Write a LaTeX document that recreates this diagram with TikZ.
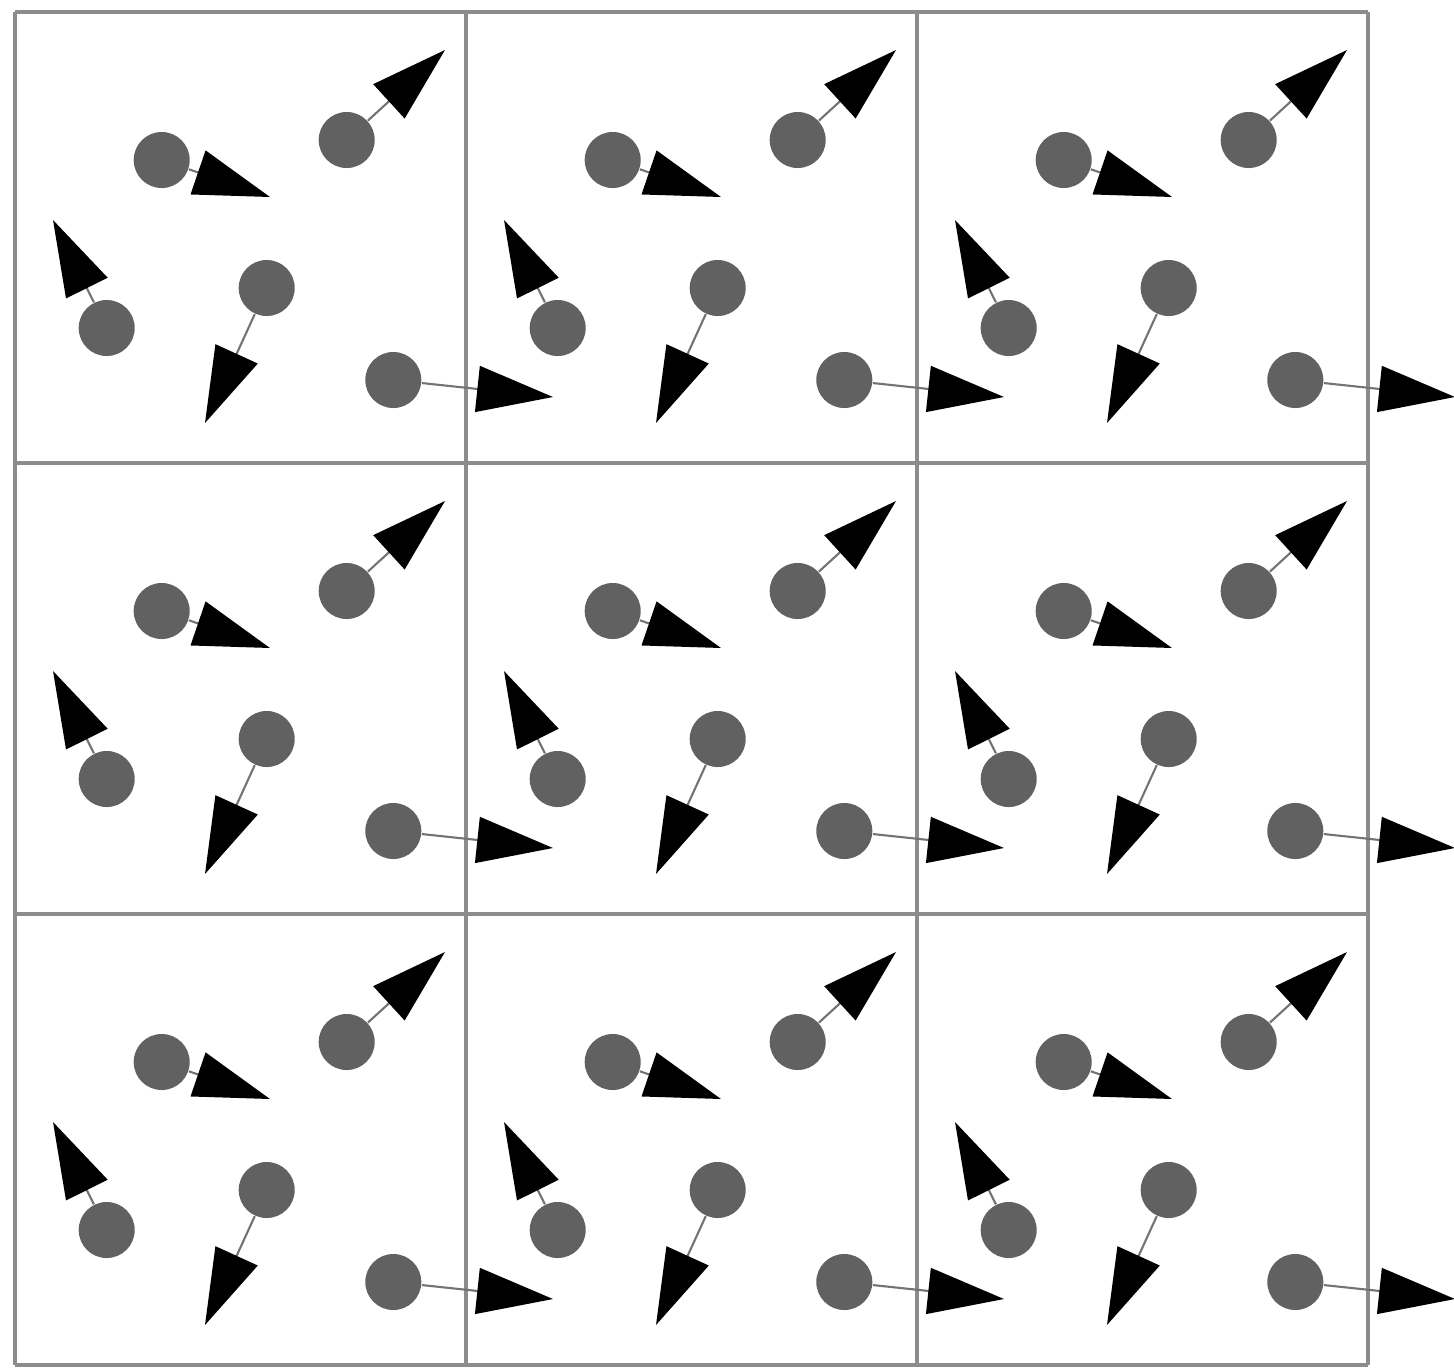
\documentclass[tikz,border=0pt]{standalone}
\usetikzlibrary{arrows.meta}
\begin{document}
\begin{tikzpicture}[x=0.01cm,y=-0.01cm,
  part/.style={circle,fill=black!62,inner sep=0pt,minimum size=5.6mm},
  vel/.style={draw=black!55,line width=0.6pt,-{Triangle[length=7.6mm,width=4.6mm,color=black]}},
  cellline/.style={draw=black!45,line width=1pt}]
\useasboundingbox (0,0) rectangle (1454,1369);
\foreach \k in {0,1,2,3}{
  \draw[cellline] ({15+451*\k},12) -- ({15+451*\k},1365);
  \draw[cellline] (15,{12+451*\k}) -- (1368,{12+451*\k});
}
\foreach \i in {0,1,2}{
 \foreach \j in {0,1,2}{
  \pgfmathsetmacro\ox{15+451*\i}
  \pgfmathsetmacro\oy{12+451*\j}
  \node[part] (a-\i-\j) at ({\ox+146.7},{\oy+148}) {};
  \node[part] (b-\i-\j) at ({\ox+331.7},{\oy+128}) {};
  \node[part] (c-\i-\j) at ({\ox+91.7},{\oy+316}) {};
  \node[part] (d-\i-\j) at ({\ox+251.7},{\oy+276}) {};
  \node[part] (e-\i-\j) at ({\ox+378.3},{\oy+368}) {};
  \coordinate (ta-\i-\j) at ({\ox+255},{\oy+185});
  \coordinate (tb-\i-\j) at ({\ox+430},{\oy+38});
  \coordinate (tc-\i-\j) at ({\ox+38},{\oy+208});
  \coordinate (td-\i-\j) at ({\ox+190},{\oy+411});
  \coordinate (te-\i-\j) at ({\ox+538},{\oy+385});
  \draw[vel] (a-\i-\j) -- (ta-\i-\j);
  \draw[vel] (b-\i-\j) -- (tb-\i-\j);
  \draw[vel] (c-\i-\j) -- (tc-\i-\j);
  \draw[vel] (d-\i-\j) -- (td-\i-\j);
  \draw[vel] (e-\i-\j) -- (te-\i-\j);
 }
}
\end{tikzpicture}
\end{document}
